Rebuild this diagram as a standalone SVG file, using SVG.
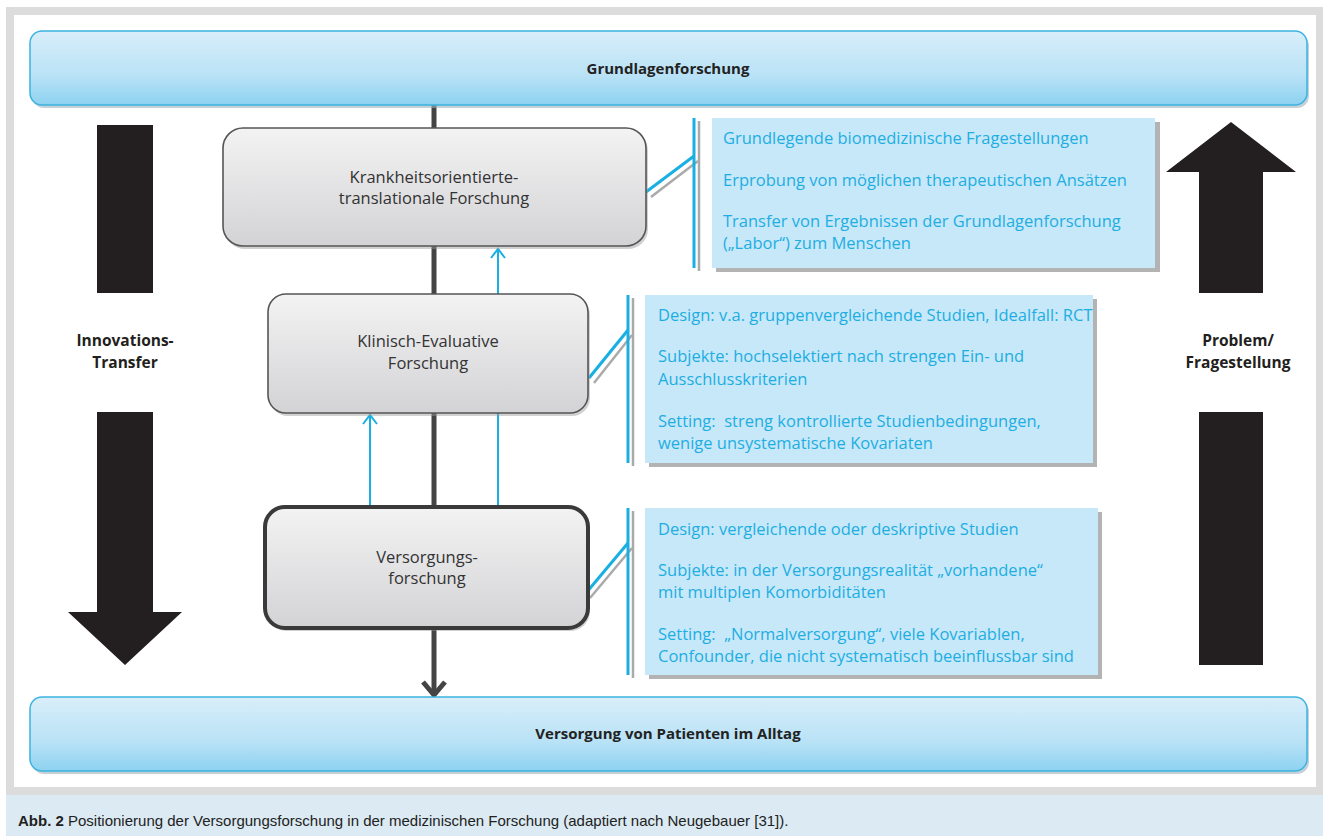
<svg xmlns="http://www.w3.org/2000/svg" width="1323" height="836" viewBox="0 0 1323 836">
<defs>
<linearGradient id="blueBar" x1="0" y1="0" x2="0" y2="1">
<stop offset="0" stop-color="#d9eefa"/>
<stop offset="0.6" stop-color="#b9e2f6"/>
<stop offset="1" stop-color="#8dd2f1"/>
</linearGradient>
<linearGradient id="grayBox" x1="0" y1="0" x2="0" y2="1">
<stop offset="0" stop-color="#f3f3f3"/>
<stop offset="1" stop-color="#d3d3d6"/>
</linearGradient>
</defs>
<style>
.bar{fill:url(#blueBar);stroke:#3ab3e0;stroke-width:1.5}
.barShadow{fill:#9fb3bd;opacity:0.6}
.barText{font-family:"Open Sans","Liberation Sans",Arial,sans-serif;font-size:15px;font-weight:bold;fill:#222;text-anchor:middle}
.box{fill:url(#grayBox);stroke:#555;stroke-width:1.6}
.boxShadow{fill:#999;opacity:0.45}
.boxText{font-family:"Open Sans","Liberation Sans",Arial,sans-serif;font-size:16.5px;fill:#333;text-anchor:middle}
.info{fill:#c6e8f8}
.infoShadow{fill:#b3b3b3}
.infoText{font-family:"Open Sans","Liberation Sans",Arial,sans-serif;font-size:16.5px;fill:#1eaee3}
.brk{stroke:#1aafe2;stroke-width:3;fill:none}
.brkShadow{stroke:#aaa;stroke-width:2.5;fill:none}
.cyan{stroke:#1aafe2;stroke-width:2;fill:none}
.spine{stroke:#444;stroke-width:5;fill:none}
.big{fill:#231f20}
.sideText{font-family:"Open Sans","Liberation Sans",Arial,sans-serif;font-size:15.5px;font-weight:bold;fill:#231f20;text-anchor:middle}
</style>
<!-- frame -->
<rect x="0" y="0" width="1323" height="836" fill="#ffffff"/>
<rect x="6" y="7" width="1317" height="788" fill="#dcdcdc"/>
<rect x="14" y="15" width="1302" height="772" fill="#ffffff"/>
<rect x="6" y="795" width="1317" height="41" fill="#dbeaf3"/>
<text x="18" y="826" style="font-family:'Liberation Sans',Arial,sans-serif;font-size:15px;fill:#222"><tspan font-weight="bold">Abb. 2</tspan><tspan x="68">Positionierung der Versorgungsforschung in der medizinischen Forschung (adaptiert nach Neugebauer [31]).</tspan></text>

<!-- connectors -->
<g id="connectors">
<line class="spine" x1="434" y1="105" x2="434" y2="694"/>
<path d="M423,682 L434,695 L445,682" class="spine" stroke-linejoin="miter"/>
<line class="cyan" x1="498" y1="294" x2="498" y2="250"/>
<path class="cyan" d="M491,258 L498,249 L505,258"/>
<line class="cyan" x1="370" y1="507" x2="370" y2="416"/>
<path class="cyan" d="M363,424 L370,415 L377,424"/>
<line class="cyan" x1="498" y1="507" x2="498" y2="413"/>
<!-- brackets -->
<line class="brkShadow" x1="699" y1="121" x2="699" y2="271"/>
<line class="brkShadow" x1="651" y1="197" x2="698" y2="161"/>
<line class="brk" x1="694" y1="118" x2="694" y2="268"/>
<line class="brk" x1="646" y1="192" x2="694" y2="156"/>
<line class="brkShadow" x1="633" y1="298" x2="633" y2="466"/>
<line class="brkShadow" x1="594" y1="383" x2="632" y2="335"/>
<line class="brk" x1="628" y1="295" x2="628" y2="463"/>
<line class="brk" x1="589" y1="378" x2="628" y2="330"/>
<line class="brkShadow" x1="633" y1="511" x2="633" y2="678"/>
<line class="brkShadow" x1="590" y1="598" x2="632" y2="548"/>
<line class="brk" x1="628" y1="508" x2="628" y2="675"/>
<line class="brk" x1="586" y1="593" x2="628" y2="543"/>
</g>

<!-- top bar -->
<g id="grundlagen">
<rect class="barShadow" x="32" y="34" width="1277" height="74" rx="12"/>
<rect class="bar" x="30" y="31" width="1277" height="74" rx="12"/>
<text class="barText" x="668" y="74">Grundlagenforschung</text>
</g>

<!-- bottom bar -->
<g id="versorgung-alltag">
<rect class="barShadow" x="32" y="700" width="1277" height="74" rx="12"/>
<rect class="bar" x="30" y="697" width="1277" height="74" rx="12"/>
<text class="barText" x="668" y="739">Versorgung von Patienten im Alltag</text>
</g>

<!-- box 1 -->
<g id="krankheitsorientiert">
<rect class="boxShadow" x="225" y="131" width="423" height="118" rx="20"/>
<rect class="box" x="223" y="128" width="423" height="118" rx="20"/>
<text class="boxText" x="434" y="183">Krankheitsorientierte-</text>
<text class="boxText" x="434" y="204">translationale Forschung</text>
</g>

<!-- box 2 -->
<g id="klinisch-evaluativ">
<rect class="boxShadow" x="270" y="297" width="320" height="119" rx="18"/>
<rect class="box" x="268" y="294" width="320" height="119" rx="18"/>
<text class="boxText" x="428" y="347">Klinisch-Evaluative</text>
<text class="boxText" x="428" y="369">Forschung</text>
</g>

<!-- box 3 -->
<g id="versorgungsforschung">
<rect class="boxShadow" x="267" y="510" width="323" height="121" rx="20"/>
<rect class="box" x="265" y="507" width="323" height="121" rx="20" style="stroke:#3a3a3a;stroke-width:4"/>
<text class="boxText" x="427" y="563">Versorgungs-</text>
<text class="boxText" x="427" y="584">forschung</text>
</g>

<!-- info A -->
<g id="info-translational">
<rect class="infoShadow" x="716" y="122" width="444" height="150"/>
<rect class="info" x="712" y="118" width="443" height="150"/>
<text class="infoText" x="723" y="144">Grundlegende biomedizinische Fragestellungen</text>
<text class="infoText" x="723" y="186">Erprobung von möglichen therapeutischen Ansätzen</text>
<text class="infoText" x="723" y="227">Transfer von Ergebnissen der Grundlagenforschung</text>
<text class="infoText" x="723" y="249">(„Labor“) zum Menschen</text>
</g>

<!-- info B -->
<g id="info-klinisch">
<rect class="infoShadow" x="649" y="299" width="448" height="168"/>
<rect class="info" x="645" y="295" width="448" height="168"/>
<text class="infoText" x="658" y="321">Design: v.a. gruppenvergleichende Studien, Idealfall: RCT</text>
<text class="infoText" x="658" y="362">Subjekte: hochselektiert nach strengen Ein- und</text>
<text class="infoText" x="658" y="385">Ausschlusskriterien</text>
<text class="infoText" x="658" y="427" xml:space="preserve">Setting:  streng kontrollierte Studienbedingungen,</text>
<text class="infoText" x="658" y="449">wenige unsystematische Kovariaten</text>
</g>

<!-- info C -->
<g id="info-versorgung">
<rect class="infoShadow" x="649" y="512" width="453" height="167"/>
<rect class="info" x="645" y="508" width="453" height="167"/>
<text class="infoText" x="658" y="535">Design: vergleichende oder deskriptive Studien</text>
<text class="infoText" x="658" y="576">Subjekte: in der Versorgungsrealität „vorhandene“</text>
<text class="infoText" x="658" y="598">mit multiplen Komorbiditäten</text>
<text class="infoText" x="658" y="640" xml:space="preserve">Setting:  „Normalversorgung“, viele Kovariablen,</text>
<text class="infoText" x="658" y="662">Confounder, die nicht systematisch beeinflussbar sind</text>
</g>

<!-- left big arrow -->
<g id="innovations-transfer">
<rect class="big" x="97" y="125" width="56" height="168"/>
<text class="sideText" x="125" y="346">Innovations-</text>
<text class="sideText" x="125" y="368">Transfer</text>
<path class="big" d="M97,412 L153,412 L153,612 L182,612 L125,665 L68,612 L97,612 Z"/>
</g>

<!-- right big arrow -->
<g id="problem-fragestellung">
<path class="big" d="M1231,122 L1296,172 L1263,172 L1263,293 L1199,293 L1199,172 L1166,172 Z"/>
<text class="sideText" x="1238" y="346">Problem/</text>
<text class="sideText" x="1238" y="368">Fragestellung</text>
<rect class="big" x="1199" y="412" width="64" height="253"/>
</g>
</svg>
